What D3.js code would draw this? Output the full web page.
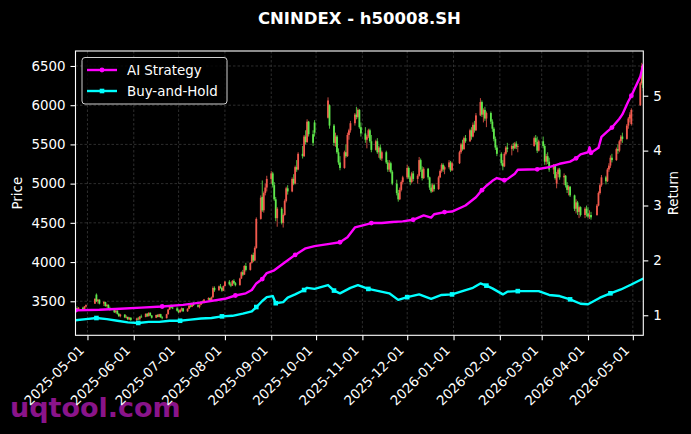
<!DOCTYPE html>
<html>
<head>
<meta charset="utf-8">
<script src="https://cdn.jsdelivr.net/npm/d3@7"></script>
<style>
  body { margin: 0; background: #000; }
  text { font-family: "DejaVu Sans", sans-serif; }
</style>
</head>
<body>
<svg id="chart" width="691" height="434"></svg>
<script>
// ---- data ----
const startDate = "2025-04-23";
const holidays = ["2025-05-01","2025-05-02","2025-05-05","2025-06-02",
  "2025-10-01","2025-10-02","2025-10-03","2025-10-06","2025-10-07","2025-10-08",
  "2026-01-01","2026-01-02","2026-02-16","2026-02-17","2026-02-18","2026-02-19","2026-02-20","2026-02-23",
  "2026-04-06","2026-05-01","2026-05-04","2026-05-05"];

// one row per trading day: [open, high, low, close]
const candles = [
  // 2025-04
  [3395,3420,3370,3410],[3410,3435,3395,3400],[3400,3425,3380,3418],[3418,3430,3385,3392],[3392,3440,3388,3432],[3432,3460,3420,3450],
  // 2025-05
  [3470,3540,3465,3530],[3585,3600,3490,3500],[3500,3530,3470,3520],[3520,3525,3460,3470],
  [3470,3500,3440,3490],[3490,3495,3430,3440],[3440,3470,3420,3455],[3455,3460,3400,3410],[3410,3430,3380,3395],
  [3395,3400,3350,3360],[3360,3390,3345,3380],[3380,3385,3330,3340],[3340,3350,3300,3310],[3310,3340,3295,3330],
  [3330,3335,3285,3295],[3295,3320,3280,3300],[3300,3305,3260,3270],[3270,3300,3260,3290],[3290,3295,3250,3262],
  // 2025-06
  [3262,3290,3245,3280],[3280,3300,3260,3270],[3270,3310,3265,3305],[3305,3330,3290,3300],
  [3300,3345,3295,3340],[3340,3350,3300,3310],[3310,3360,3305,3352],[3352,3360,3310,3318],[3318,3325,3280,3290],
  [3290,3330,3285,3325],[3325,3335,3295,3300],[3300,3340,3295,3335],[3335,3340,3290,3295],[3295,3310,3270,3285],
  [3285,3340,3280,3335],[3335,3400,3330,3395],[3395,3450,3390,3440],[3440,3460,3410,3420],[3420,3445,3400,3410],
  [3410,3430,3370,3380],
  // 2025-07
  [3380,3395,3350,3360],[3360,3400,3355,3390],[3390,3420,3370,3410],[3410,3415,3365,3372],
  [3372,3410,3365,3405],[3405,3450,3400,3445],[3445,3460,3420,3430],[3430,3480,3425,3472],[3472,3490,3440,3450],
  [3450,3470,3420,3430],[3430,3460,3410,3455],[3455,3500,3450,3495],[3495,3510,3470,3480],[3480,3530,3475,3522],
  [3522,3550,3510,3540],[3540,3545,3500,3515],[3515,3560,3510,3550],[3550,3690,3545,3670],[3670,3690,3620,3640],
  [3640,3700,3635,3690],[3690,3720,3660,3670],[3670,3680,3620,3635],[3635,3700,3630,3695],
  // 2025-08
  [3695,3760,3690,3750],
  [3750,3770,3700,3715],[3715,3740,3680,3700],[3700,3770,3695,3760],[3760,3780,3720,3730],[3730,3745,3690,3705],
  [3705,3800,3700,3790],[3790,3880,3785,3870],[3870,3900,3820,3840],[3840,3960,3835,3950],[3950,3990,3880,3900],
  [3900,4000,3890,3990],[3990,4100,3980,4090],[4090,4120,4000,4020],[4020,4200,4010,4180],[4180,4570,4170,4550],
  [4550,4850,4540,4820],[4830,5040,4640,4660],[4660,4900,4630,4880],[4880,5000,4850,4950],[4950,5100,4900,5060],
  // 2025-09
  [5060,5160,5000,5130],[5130,5150,4950,4980],[4980,5020,4780,4800],[4800,4830,4520,4560],[4560,4700,4450,4680],
  [4680,4700,4480,4500],[4500,4620,4440,4600],[4600,4800,4590,4780],[4780,4960,4760,4940],[4940,4980,4860,4900],
  [4900,5080,4890,5060],[5060,5120,4980,5000],[5000,5230,4990,5210],[5210,5300,5150,5180],[5180,5400,5170,5380],
  [5380,5480,5320,5350],[5350,5620,5340,5600],[5600,5680,5500,5530],[5530,5820,5520,5790],[5790,5800,5600,5630],
  [5630,5680,5480,5520],[5780,5810,5600,5650],
  // 2025-10
  [5840,6100,5830,6060],[6000,6010,5700,5740],
  [5740,5760,5480,5520],[5520,5650,5470,5600],[5600,5620,5380,5400],[5400,5450,5240,5270],[5270,5350,5170,5200],
  [5200,5420,5190,5400],[5400,5500,5330,5350],[5350,5650,5340,5620],[5620,5700,5560,5680],[5680,5800,5650,5770],
  [5770,5900,5740,5880],[5880,5980,5820,5850],[5850,5960,5830,5940],[5940,5950,5700,5720],[5720,5780,5600,5640],
  // 2025-11
  [5640,5720,5520,5560],[5560,5620,5450,5600],[5600,5700,5580,5680],[5680,5700,5520,5540],[5540,5620,5400,5430],
  [5430,5560,5420,5540],[5540,5580,5380,5400],[5400,5480,5330,5460],[5460,5500,5300,5320],[5320,5420,5290,5400],
  [5400,5420,5250,5270],[5270,5300,5150,5180],[5180,5300,5150,5260],[5260,5280,5130,5150],[5150,5170,4980,5000],
  [5000,5050,4850,4880],[4880,4920,4770,4800],[4800,4950,4790,4920],[4920,5040,4900,5020],[5020,5100,4990,5080],
  // 2025-12
  [5080,5240,5060,5200],[5200,5220,5060,5080],[5080,5100,4980,5020],[5020,5150,5000,5130],[5130,5160,5030,5060],
  [5060,5120,5000,5100],[5100,5340,5090,5300],[5300,5320,5150,5180],[5180,5220,5040,5070],[5070,5210,5060,5190],
  [5190,5200,5050,5080],[5080,5090,4920,4950],[4950,5000,4880,4900],[4900,5000,4890,4980],[4980,5000,4900,4930],
  [4930,5100,4920,5080],[5080,5180,5070,5160],[5160,5260,5140,5240],[5240,5260,5150,5180],[5180,5230,5120,5210],
  [5210,5300,5190,5270],[5270,5290,5150,5170],[5170,5280,5160,5260],
  // 2026-01
  [5260,5420,5250,5400],[5400,5520,5380,5500],[5500,5560,5420,5440],[5440,5600,5430,5580],[5580,5620,5520,5540],
  [5540,5700,5530,5680],[5680,5720,5560,5600],[5600,5780,5590,5750],[5750,5800,5650,5680],[5680,5900,5670,5870],
  [5870,6090,5860,6040],[6040,6060,5850,5880],[5880,5960,5780,5940],[5940,5980,5800,5830],[5830,5920,5720,5900],
  [5900,5920,5760,5790],[5790,5820,5660,5700],[5700,5720,5540,5570],[5570,5600,5430,5460],[5460,5490,5350,5380],
  // 2026-02
  [5380,5400,5230,5260],[5260,5300,5170,5220],[5220,5400,5210,5380],[5380,5480,5360,5460],[5460,5520,5400,5440],
  [5440,5500,5360,5480],[5480,5520,5420,5450],[5450,5530,5440,5510],[5510,5540,5440,5470],[5470,5500,5400,5480],
  [5480,5600,5470,5580],[5580,5620,5500,5530],[5530,5600,5390,5420],[5420,5560,5410,5540],
  // 2026-03
  [5540,5600,5450,5480],[5480,5500,5240,5280],[5280,5380,5240,5350],[5350,5400,5250,5280],[5280,5330,5150,5180],
  [5180,5250,5120,5230],[5230,5240,5050,5070],[5000,5150,4940,5120],[5120,5200,5080,5180],[5180,5200,5050,5080],
  [5080,5130,4980,5100],[5100,5110,4950,4980],[4980,5020,4880,4920],[4920,4980,4850,4960],[4960,4970,4830,4850],
  [4850,4860,4650,4680],[4680,4800,4620,4760],[4760,4780,4600,4640],[4640,4720,4560,4700],[4700,4710,4580,4600],
  [4600,4700,4560,4680],[4680,4720,4580,4620],
  // 2026-04
  [4620,4700,4560,4580],[4580,4660,4550,4600],[4600,4640,4540,4570],
  [4600,4740,4590,4720],[4720,4900,4710,4880],[4880,5000,4860,4980],[4980,5110,4960,5080],
  [5080,5100,4990,5030],[5030,5200,5020,5180],[5180,5260,5150,5230],[5230,5360,5200,5330],[5330,5380,5270,5300],
  [5300,5460,5290,5440],[5440,5500,5380,5420],[5420,5560,5400,5540],[5540,5620,5500,5600],[5600,5650,5520,5570],
  [5570,5760,5560,5740],[5740,5850,5700,5830],[5830,5910,5780,5880],[5760,5960,5740,5940],
  // 2026-05
  [6000,6300,5990,6280],[6280,6540,6260,6500],[6500,6510,6180,6220]
];

const aiStrategy = [
  ["2025-04-23",1.09],["2025-05-09",1.10],["2025-05-23",1.12],["2025-06-06",1.14],["2025-06-20",1.16],
  ["2025-07-04",1.19],["2025-07-18",1.24],["2025-08-01",1.30],["2025-08-08",1.36],["2025-08-15",1.40],
  ["2025-08-19",1.46],["2025-08-22",1.58],["2025-08-26",1.66],["2025-08-29",1.77],["2025-09-03",1.82],
  ["2025-09-10",1.96],["2025-09-17",2.10],["2025-09-24",2.22],["2025-09-30",2.26],["2025-10-10",2.30],
  ["2025-10-17",2.33],["2025-10-22",2.42],["2025-10-27",2.60],["2025-10-31",2.63],["2025-11-07",2.68],
  ["2025-11-14",2.68],["2025-11-21",2.70],["2025-11-28",2.71],["2025-12-05",2.74],["2025-12-12",2.82],
  ["2025-12-17",2.78],["2025-12-19",2.84],["2025-12-26",2.88],["2025-12-31",2.89],["2026-01-09",3.00],
  ["2026-01-16",3.15],["2026-01-20",3.28],["2026-01-23",3.36],["2026-01-27",3.45],["2026-01-30",3.50],
  ["2026-02-04",3.46],["2026-02-06",3.48],["2026-02-11",3.58],["2026-02-13",3.65],["2026-02-26",3.66],
  ["2026-03-06",3.70],["2026-03-13",3.76],["2026-03-20",3.80],["2026-03-24",3.86],["2026-03-27",3.93],
  ["2026-04-01",3.97],["2026-04-02",4.06],["2026-04-03",3.96],["2026-04-08",4.05],["2026-04-10",4.25],
  ["2026-04-14",4.35],["2026-04-17",4.42],["2026-04-22",4.58],["2026-04-24",4.66],["2026-04-28",4.90],
  ["2026-04-30",5.00],["2026-05-06",5.35],["2026-05-08",5.57]
];

const buyHold = [
  ["2025-04-23",0.91],["2025-04-30",0.93],["2025-05-07",0.95],["2025-05-14",0.93],["2025-05-21",0.90],
  ["2025-05-28",0.87],["2025-06-04",0.86],["2025-06-11",0.88],["2025-06-18",0.88],["2025-06-25",0.90],
  ["2025-07-02",0.90],["2025-07-09",0.92],["2025-07-16",0.94],["2025-07-23",0.95],["2025-07-30",0.98],
  ["2025-08-06",0.99],["2025-08-13",1.03],["2025-08-19",1.07],["2025-08-22",1.15],["2025-08-26",1.26],
  ["2025-08-29",1.33],["2025-09-02",1.35],["2025-09-04",1.22],["2025-09-09",1.24],["2025-09-12",1.32],
  ["2025-09-17",1.38],["2025-09-23",1.46],["2025-09-25",1.50],["2025-09-30",1.48],["2025-10-09",1.55],
  ["2025-10-13",1.45],["2025-10-17",1.40],["2025-10-24",1.50],["2025-10-29",1.55],["2025-11-05",1.48],
  ["2025-11-12",1.44],["2025-11-19",1.40],["2025-11-25",1.28],["2025-12-01",1.33],["2025-12-09",1.38],
  ["2025-12-17",1.30],["2025-12-24",1.37],["2025-12-31",1.38],["2026-01-08",1.45],["2026-01-14",1.50],
  ["2026-01-19",1.58],["2026-01-23",1.54],["2026-01-27",1.49],["2026-02-03",1.38],["2026-02-06",1.43],
  ["2026-02-13",1.44],["2026-02-27",1.44],["2026-03-06",1.37],["2026-03-13",1.35],["2026-03-20",1.29],
  ["2026-03-27",1.21],["2026-04-01",1.20],["2026-04-09",1.32],["2026-04-16",1.40],["2026-04-23",1.47],
  ["2026-04-30",1.56],["2026-05-08",1.67]
];

const priceTicks = [3500, 4000, 4500, 5000, 5500, 6000, 6500];
const returnTicks = [1, 2, 3, 4, 5];
const dateTicks = ["2025-05-01","2025-06-01","2025-07-01","2025-08-01","2025-09-01","2025-10-01",
  "2025-11-01","2025-12-01","2026-01-01","2026-02-01","2026-03-01","2026-04-01","2026-05-01"];

// ---- layout ----
const W = 691, H = 434;
const plot = {left: 75.5, right: 643.3, top: 51, bottom: 335.3};
const upColor = "#f25a4e", downColor = "#5fe84c";

const parse = d3.timeParse("%Y-%m-%d");
const fmt = d3.timeFormat("%Y-%m-%d");

// trading calendar: weekdays minus exchange holidays
const holidaySet = new Set(holidays);
const days = [];
for (let d = parse(startDate); days.length < candles.length; d = d3.timeDay.offset(d, 1)) {
    const wd = d.getDay();
    if (wd === 0 || wd === 6 || holidaySet.has(fmt(d))) continue;
    days.push(d);
}
const bars = candles.map((c, i) => ({date: days[i], o: c[0], h: c[1], l: c[2], c: c[3]}));

const x = d3.scaleTime().domain([days[0], days[days.length - 1]]).range([plot.left, plot.right]);
const yP = d3.scaleLinear().domain([3066, 6691]).range([plot.bottom, plot.top]);
const yR = d3.scaleLinear().domain([0.635, 5.815]).range([plot.bottom, plot.top]);

const svg = d3.select("#chart");
svg.append("rect").attr("width", W).attr("height", H).attr("fill", "#000");

// watermark (under the tick labels)
svg.append("text")
    .attr("x", 10).attr("y", 417)
    .attr("font-size", 27).attr("font-weight", "bold")
    .attr("fill", "#8a148a")
    .text("uqtool.com");

svg.append("clipPath").attr("id", "clip")
    .append("rect")
    .attr("x", plot.left).attr("y", plot.top)
    .attr("width", plot.right - plot.left).attr("height", plot.bottom - plot.top);

// grid
const grid = svg.append("g").attr("stroke", "#8a8a8a").attr("stroke-opacity", 0.55)
    .attr("stroke-width", 0.6).attr("stroke-dasharray", "2.5,2");
grid.selectAll(".gx").data(dateTicks).enter().append("line")
    .attr("x1", d => x(parse(d))).attr("x2", d => x(parse(d)))
    .attr("y1", plot.top).attr("y2", plot.bottom);
grid.selectAll(".gy").data(priceTicks).enter().append("line")
    .attr("x1", plot.left).attr("x2", plot.right)
    .attr("y1", d => yP(d)).attr("y2", d => yP(d));

// candlesticks
const cg = svg.append("g").attr("clip-path", "url(#clip)");
const candle = cg.selectAll(".candle").data(bars).enter().append("g")
    .attr("class", "candle")
    .attr("fill", d => d.c >= d.o ? upColor : downColor)
    .attr("stroke", d => d.c >= d.o ? upColor : downColor);
candle.append("line")
    .attr("x1", d => x(d.date)).attr("x2", d => x(d.date))
    .attr("y1", d => yP(d.h)).attr("y2", d => yP(d.l))
    .attr("stroke-width", 0.8);
candle.append("rect")
    .attr("x", d => x(d.date) - 0.9).attr("width", 1.8)
    .attr("y", d => yP(Math.max(d.o, d.c)))
    .attr("height", d => Math.max(0.8, Math.abs(yP(d.o) - yP(d.c))))
    .attr("stroke", "none");

// return lines
const lineGen = d3.line().x(d => x(parse(d[0]))).y(d => yR(d[1]));
const lg = svg.append("g").attr("clip-path", "url(#clip)");
lg.append("path").datum(aiStrategy).attr("d", lineGen)
    .attr("fill", "none").attr("stroke", "#ff00ff").attr("stroke-width", 2.4).attr("stroke-linejoin", "round");
lg.selectAll(".aiDot").data(aiStrategy.filter((d, i) => i % 4 === 0)).enter().append("circle")
    .attr("cx", d => x(parse(d[0]))).attr("cy", d => yR(d[1])).attr("r", 2.4).attr("fill", "#ff00ff");
lg.append("path").datum(buyHold).attr("d", lineGen)
    .attr("fill", "none").attr("stroke", "#00ffff").attr("stroke-width", 2.4).attr("stroke-linejoin", "round");
lg.selectAll(".bhSq").data(buyHold.filter((d, i) => i % 4 === 2)).enter().append("rect")
    .attr("x", d => x(parse(d[0])) - 2.3).attr("y", d => yR(d[1]) - 2.3)
    .attr("width", 4.6).attr("height", 4.6).attr("fill", "#00ffff");

// frame
svg.append("rect")
    .attr("x", plot.left).attr("y", plot.top)
    .attr("width", plot.right - plot.left).attr("height", plot.bottom - plot.top)
    .attr("fill", "none").attr("stroke", "#fff").attr("stroke-width", 1.1);

// axes
function styleAxis(g) {
    g.select(".domain").remove();
    g.selectAll(".tick line").attr("stroke", "#fff").attr("stroke-width", 1.1);
    g.selectAll(".tick text").attr("fill", "#fff").attr("font-size", 13.4)
        .attr("font-family", "DejaVu Sans, sans-serif");
}
svg.append("g").attr("transform", `translate(${plot.left},0)`)
    .call(d3.axisLeft(yP).tickValues(priceTicks).tickSize(5).tickPadding(5).tickFormat(d3.format("d")))
    .call(styleAxis);
svg.append("g").attr("transform", `translate(${plot.right},0)`)
    .call(d3.axisRight(yR).tickValues(returnTicks).tickSize(5).tickPadding(5).tickFormat(d3.format("d")))
    .call(styleAxis);
const xAxis = svg.append("g").attr("transform", `translate(0,${plot.bottom})`)
    .call(d3.axisBottom(x).tickValues(dateTicks.map(parse)).tickSize(5).tickFormat(fmt))
    .call(styleAxis);
xAxis.selectAll(".tick text")
    .attr("text-anchor", "end")
    .attr("dy", null).attr("y", null)
    .attr("transform", "translate(-3,16) rotate(-45)");

// titles
svg.append("text").attr("x", (plot.left + plot.right) / 2).attr("y", 23.5)
    .attr("text-anchor", "middle").attr("font-size", 16.5).attr("font-weight", "bold")
    .attr("fill", "#fff").text("CNINDEX - h50008.SH");
svg.append("text").attr("transform", `translate(22,${(plot.top + plot.bottom) / 2}) rotate(-90)`)
    .attr("text-anchor", "middle").attr("font-size", 13.4).attr("fill", "#fff").text("Price");
svg.append("text").attr("transform", `translate(678,${(plot.top + plot.bottom) / 2}) rotate(-90)`)
    .attr("text-anchor", "middle").attr("font-size", 13.4).attr("fill", "#fff").text("Return");

// legend
const legend = svg.append("g");
legend.append("rect").attr("x", 82).attr("y", 57.5).attr("width", 145).attr("height", 46.5)
    .attr("rx", 3).attr("fill", "#000").attr("fill-opacity", 0.8)
    .attr("stroke", "#d0d0d0").attr("stroke-width", 1);
const entries = [
    {name: "AI Strategy", color: "#ff00ff", shape: "circle", y: 70},
    {name: "Buy-and-Hold", color: "#00ffff", shape: "square", y: 91}
];
entries.forEach(e => {
    legend.append("line").attr("x1", 87).attr("x2", 117).attr("y1", e.y).attr("y2", e.y)
        .attr("stroke", e.color).attr("stroke-width", 2.4);
    if (e.shape === "circle") {
        legend.append("circle").attr("cx", 102).attr("cy", e.y).attr("r", 2.4).attr("fill", e.color);
    } else {
        legend.append("rect").attr("x", 99.7).attr("y", e.y - 2.3).attr("width", 4.6).attr("height", 4.6).attr("fill", e.color);
    }
    legend.append("text").attr("x", 127).attr("y", e.y + 5).attr("font-size", 13.4)
        .attr("fill", "#fff").text(e.name);
});
</script>
</body>
</html>
